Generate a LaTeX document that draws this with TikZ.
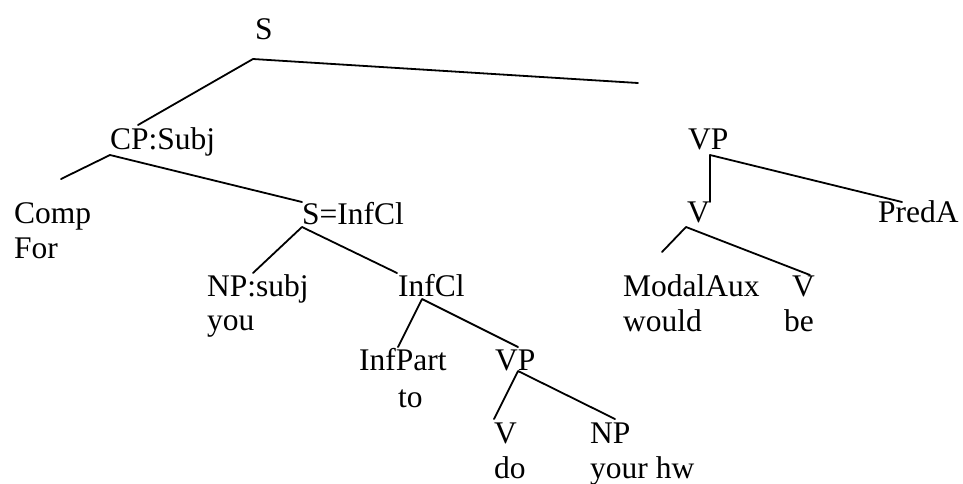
\documentclass[tikz,border=0pt]{standalone}
\usepackage{fontspec}
\setmainfont{Liberation Serif}
\begin{document}
\begin{tikzpicture}[x=1pt,y=-1pt,
  lbl/.style={anchor=base west,inner sep=0pt,font=\fontsize{31.5}{36}\selectfont},
  edge/.style={line width=1.8pt,line cap=round,line join=round}]
\useasboundingbox (0,0) rectangle (963,483);
% labels
\node[lbl] (S) at (255,39) {S};
\node[lbl] (CP) at (110,149) {CP:Subj};
\node[lbl] (Comp) at (14,223) {Comp};
\node[lbl] (For) at (14,258) {For};
\node[lbl] (SInf) at (302,224) {S=InfCl};
\node[lbl] (NPs) at (207,296) {NP:subj};
\node[lbl] (you) at (207,330) {you};
\node[lbl] (InfCl) at (398,296) {InfCl};
\node[lbl] (InfPart) at (359,370) {InfPart};
\node[lbl] (to) at (398,407) {to};
\node[lbl] (VP) at (495,370) {VP};
\node[lbl] (V) at (494,443) {V};
\node[lbl] (do) at (494,478) {do};
\node[lbl] (NP) at (590,443) {NP};
\node[lbl] (hw) at (590,478) {your hw};
\node[lbl] (VPr) at (688,149) {VP};
\node[lbl] (Vr) at (687,222) {V};
\node[lbl] (PredA) at (878,222) {PredA};
\node[lbl] (Modal) at (623,296) {ModalAux};
\node[lbl] (would) at (623,331) {would};
\node[lbl] (Vbe) at (792,296) {V};
\node[lbl] (be) at (784,331) {be};
% connector points
\coordinate (sS) at (253,59);
\coordinate (eCP) at (138,125);
\coordinate (eFree) at (638,83);
\coordinate (sCP) at (110,155);
\coordinate (eComp) at (61,179);
\coordinate (eSInf) at (302,202);
\coordinate (sSInf) at (302,227);
\coordinate (eNPs) at (253,273);
\coordinate (eInfCl) at (397,273);
\coordinate (sInfCl) at (422,299);
\coordinate (eInfPart) at (398,347);
\coordinate (eVP) at (518,347);
\coordinate (sVP) at (518,371);
\coordinate (eV) at (494,419);
\coordinate (eNP) at (615,419);
\coordinate (sVPr) at (710,155);
\coordinate (eVr) at (710,202);
\coordinate (ePredA) at (902,202);
\coordinate (sVr) at (686,227);
\coordinate (eModal) at (662,252);
\coordinate (eVbe) at (810,275);
% connectors
\draw[edge] (eCP) -- (sS) -- (eFree);
\draw[edge] (eComp) -- (sCP) -- (eSInf);
\draw[edge] (eNPs) -- (sSInf) -- (eInfCl);
\draw[edge] (eInfPart) -- (sInfCl) -- (eVP);
\draw[edge] (eV) -- (sVP) -- (eNP);
\draw[edge] (eVr) -- (sVPr) -- (ePredA);
\draw[edge] (eModal) -- (sVr) -- (eVbe);
\end{tikzpicture}
\end{document}
